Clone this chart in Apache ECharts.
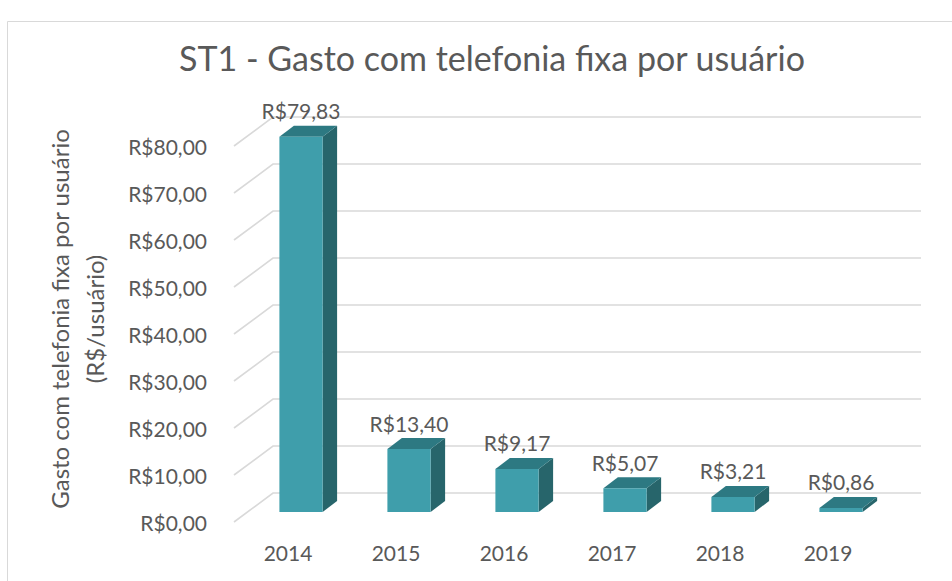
<!DOCTYPE html>
<html>
<head>
<meta charset="utf-8">
<script src="https://cdn.jsdelivr.net/npm/echarts@6/dist/echarts.min.js"></script>
<style>
  html, body { margin: 0; padding: 0; background: #fff; }
  #chart { width: 952px; height: 581px; }
</style>
</head>
<body>
<div id="chart"></div>
<script>
// Data
const categories = ['2014', '2015', '2016', '2017', '2018', '2019'];
const gastoPorUsuario = [79.83, 13.40, 9.17, 5.07, 3.21, 0.86];
const gridTicks = [0, 10, 20, 30, 40, 50, 60, 70, 80];

const FONT = 'Lato';
const TEXT = '#595959';
const GRID_LINE = '#D9D9D9';

// Depth offsets of the pseudo-3D box
const BAR_DX = 14.5, BAR_DY = -11;      // bar depth
const FRONT_DX = -13, FRONT_DY = 10;    // floor front edge vs bar plane
const BACK_DX = 26, BACK_DY = -19;      // back wall vs bar plane

const brl = v => 'R$' + v.toFixed(2).replace('.', ',');

const chart = echarts.init(document.getElementById('chart'), null, { renderer: 'svg' });

chart.setOption({
  animation: false,
  title: {
    text: 'ST1 - Gasto com telefonia fixa por usuário',
    left: 487, top: 35, textAlign: 'center',
    textStyle: { fontFamily: FONT, fontSize: 34, fontWeight: 'normal', color: TEXT }
  },
  graphic: [{
    type: 'rect', silent: true, z: -10,
    shape: { x: 7.5, y: 21.5, width: 960, height: 600 },
    style: { fill: 'none', stroke: '#D9D9D9', lineWidth: 1 }
  }],
  grid: [
    // bar front plane
    { left: 247, width: 648, top: 136, bottom: 69 },
    // floor front edge (axis labels)
    { left: 234, width: 648, top: 146, bottom: 59 }
  ],
  xAxis: [
    { type: 'category', gridIndex: 0, data: categories,
      axisLine: { show: false }, axisTick: { show: false }, axisLabel: { show: false } },
    { type: 'category', gridIndex: 1, data: categories,
      axisLine: { show: false }, axisTick: { show: false },
      axisLabel: { margin: 20, fontFamily: FONT, fontSize: 21, color: TEXT } }
  ],
  yAxis: [
    { type: 'value', gridIndex: 0, min: 0, max: 80, interval: 10,
      axisLine: { show: false }, axisTick: { show: false }, axisLabel: { show: false },
      splitLine: { show: false } },
    { type: 'value', gridIndex: 1, min: 0, max: 80, interval: 10,
      axisLine: { show: false }, axisTick: { show: false }, splitLine: { show: false },
      axisLabel: { margin: 27, fontFamily: FONT, fontSize: 21, color: TEXT, formatter: v => brl(v) },
      name: 'Gasto com telefonia fixa por usuário\n(R$/usuário)',
      nameLocation: 'middle', nameGap: 122, nameRotate: 90,
      nameTextStyle: { fontFamily: FONT, fontSize: 24, color: TEXT, lineHeight: 35, padding: [0, 0, 0, 30] } }
  ],
  series: [
    {
      // wall gridlines with perspective floor edge
      type: 'custom', xAxisIndex: 0, yAxisIndex: 0, z: 1, silent: true,
      data: gridTicks.map(v => [0, v]),
      renderItem: (params, api) => {
        const cs = params.coordSys;
        const y = api.coord([0, api.value(1)])[1];
        const left = cs.x, right = cs.x + cs.width;
        return {
          type: 'polyline',
          shape: { points: [
            [left + FRONT_DX, y + FRONT_DY],
            [left + BACK_DX, y + BACK_DY],
            [right + BACK_DX, y + BACK_DY]
          ] },
          style: { stroke: GRID_LINE, lineWidth: 1.6, fill: 'none' }
        };
      }
    },
    {
      // 3D bars
      type: 'custom', xAxisIndex: 0, yAxisIndex: 0, z: 5, silent: true,
      data: gastoPorUsuario.map((v, i) => [i, v]),
      renderItem: (params, api) => {
        const i = api.value(0), v = api.value(1);
        const top = api.coord([i, v]);
        const base = api.coord([i, 0]);
        const w = api.size([1, 0])[0] * 0.4;
        const x0 = top[0] - w / 2, x1 = top[0] + w / 2;
        const yt = top[1], yb = base[1];
        return {
          type: 'group',
          children: [
            { type: 'polygon',
              shape: { points: [[x1, yt], [x1 + BAR_DX, yt + BAR_DY], [x1 + BAR_DX, yb + BAR_DY], [x1, yb]] },
              style: { fill: '#27656B' } },
            { type: 'polygon',
              shape: { points: [[x0, yt], [x0 + BAR_DX, yt + BAR_DY], [x1 + BAR_DX, yt + BAR_DY], [x1, yt]] },
              style: { fill: '#2D7982' } },
            { type: 'rect',
              shape: { x: x0, y: yt, width: w, height: yb - yt },
              style: { fill: '#3F9EAB' } },
            { type: 'text',
              style: { text: brl(v), x: top[0], y: yt - 26, align: 'center', verticalAlign: 'middle',
                       fontFamily: FONT, fontSize: 21, fill: TEXT } }
          ]
        };
      }
    }
  ]
});
</script>
</body>
</html>
